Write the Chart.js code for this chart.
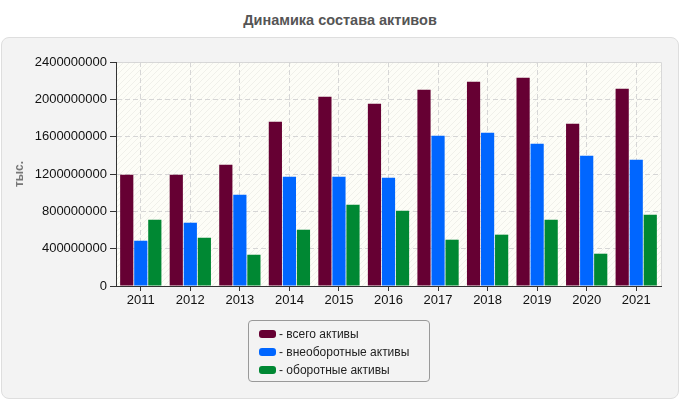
<!DOCTYPE html>
<html>
<head>
    <title>Динамика состава активов</title>
    <script src="https://cdn.jsdelivr.net/npm/chart.js"></script>
    <style>
        body { margin: 0; background: #fff; font-family: "Liberation Sans", Arial, sans-serif; }
        #wrap { position: relative; width: 680px; height: 400px; }
        #title { position: absolute; left: 0; top: 12px; width: 680px; text-align: center;
                 font-weight: bold; font-size: 14.5px; color: #555; }
        #panel { position: absolute; left: 1px; top: 37px; width: 676px; height: 360px;
                 background: #f3f3f3; border: 1px solid #dedede; border-radius: 8px; }
        #myChart { position: absolute; left: 0; top: 0; }
        #legend { position: absolute; left: 248px; top: 320px; width: 182px; height: 62px;
                  border: 1px solid #999; border-radius: 4px; padding-top: 4px; box-sizing: border-box; }
        .item { height: 18px; line-height: 18px; font-size: 12px; color: #222; padding-left: 10px; }
        .sw { display: inline-block; width: 17px; height: 8px; border-radius: 3px; vertical-align: middle;
              margin-right: 3px; position: relative; top: -1px; }
    </style>
</head>
<body>
<div id="wrap">
    <div id="title">Динамика состава активов</div>
    <div id="panel"></div>
    <canvas id="myChart" width="680" height="400"></canvas>
    <div id="legend"></div>
</div>
<script>
    var years = ['2011', '2012', '2013', '2014', '2015', '2016', '2017', '2018', '2019', '2020', '2021'];
    var totalAssets = [1192000000, 1192000000, 1300000000, 1760000000, 2028000000, 1953000000,
                       2103000000, 2189000000, 2232000000, 1739000000, 2114000000];
    var nonCurrentAssets = [485000000, 678000000, 978000000, 1171000000, 1171000000, 1160000000,
                            1610000000, 1642000000, 1525000000, 1396000000, 1353000000];
    var currentAssets = [710000000, 517000000, 335000000, 603000000, 871000000, 807000000,
                         496000000, 550000000, 710000000, 346000000, 764000000];
    var seriesNames = ['всего активы', 'внеоборотные активы', 'оборотные активы'];
    var seriesColors = ['#660033', '#0066ff', '#008833'];

    // hatched plot background
    function makePattern(ctx) {
        var c = document.createElement('canvas');
        c.width = 6; c.height = 6;
        var p = c.getContext('2d');
        p.fillStyle = '#fdfdf7';
        p.fillRect(0, 0, 6, 6);
        p.strokeStyle = 'rgba(0,0,0,0.05)';
        p.lineWidth = 1;
        p.beginPath();
        p.moveTo(0, 6); p.lineTo(6, 0);
        p.moveTo(-1, 1); p.lineTo(1, -1);
        p.moveTo(5, 7); p.lineTo(7, 5);
        p.stroke();
        return ctx.createPattern(c, 'repeat');
    }

    var plotBg = {
        id: 'plotBg',
        beforeDraw: function(chart) {
            var a = chart.chartArea, ctx = chart.ctx;
            ctx.save();
            ctx.fillStyle = makePattern(ctx);
            ctx.fillRect(a.left, a.top, a.right - a.left, a.bottom - a.top);
            ctx.strokeStyle = '#d8d8d8';
            ctx.lineWidth = 1;
            ctx.beginPath();
            ctx.moveTo(a.left, a.top + 0.5); ctx.lineTo(a.right + 0.5, a.top + 0.5);
            ctx.lineTo(a.right + 0.5, a.bottom);
            ctx.stroke();
            ctx.restore();
        }
    };

    var ctx = document.getElementById('myChart').getContext('2d');
    var sets = [totalAssets, nonCurrentAssets, currentAssets].map(function(d, i) {
        return {
            label: seriesNames[i],
            data: d,
            backgroundColor: seriesColors[i],
            categoryPercentage: 0.85,
            barPercentage: 0.94
        };
    });

    var myChart = new Chart(ctx, {
        type: 'bar',
        data: { labels: years, datasets: sets },
        plugins: [plotBg],
        options: {
            responsive: false,
            animation: false,
            layout: { padding: { left: 10, top: 62, right: 19, bottom: 90 } },
            plugins: { legend: { display: false }, tooltip: { enabled: false } },
            scales: {
                x: {
                    grid: { offset: false, color: '#d6d6d6', tickLength: 5,
                            tickColor: '#333', tickBorderDash: [0, 0] },
                    border: { color: '#333', width: 1, dash: [5, 3] },
                    ticks: { color: '#111', font: { size: 13, family: 'Liberation Sans' }, padding: 2 },
                    afterFit: function(s) { s.height = 24; }
                },
                y: {
                    min: 0, max: 2400000000,
                    grid: { color: '#d6d6d6', tickLength: 6,
                            tickColor: '#333', tickBorderDash: [0, 0] },
                    border: { color: '#333', width: 1, dash: [5, 3] },
                    ticks: { stepSize: 400000000, color: '#111', padding: 3,
                             font: { size: 13, family: 'Liberation Sans' },
                             callback: function(v) { return String(v); } },
                    title: { display: true, text: 'тыс.', color: '#777',
                             font: { size: 12, weight: 'bold', family: 'Liberation Sans' }, padding: 2 },
                    afterFit: function(s) { s.width = 106; }
                }
            }
        }
    });

    var lg = document.getElementById('legend');
    seriesNames.forEach(function(n, i) {
        var d = document.createElement('div');
        d.className = 'item';
        d.innerHTML = '<span class="sw" style="background:' + seriesColors[i] + '"></span>- ' + n;
        lg.appendChild(d);
    });
</script>
</body>
</html>
